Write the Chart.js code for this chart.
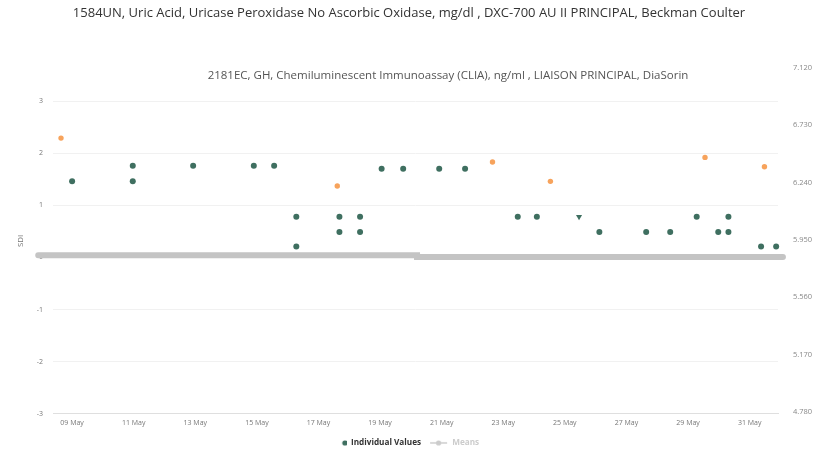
<!DOCTYPE html>
<html>
<head>
<meta charset="utf-8">
<script src="https://cdn.jsdelivr.net/npm/chart.js@4.4.0/dist/chart.umd.min.js"></script>
<style>
  body { margin: 0; background: #fff; }
  #wrap { position: relative; width: 814px; height: 452px; }
  .ttl { position: absolute; white-space: nowrap; text-align: center; font-family: "Open Sans", sans-serif; }
  #title { top: 3px; left: 0; width: 818px; font-size: 13px; color: #333; }
  #subtitle { top: 67px; left: 48px; width: 800px; font-size: 11.5px; color: #555; }
</style>
</head>
<body>
<div id="wrap">
  <canvas id="myChart" width="814" height="452"></canvas>
  <div id="title" class="ttl">1584UN, Uric Acid, Uricase Peroxidase No Ascorbic Oxidase, mg/dl , DXC-700 AU II PRINCIPAL, Beckman Coulter</div>
  <div id="subtitle" class="ttl">2181EC, GH, Chemiluminescent Immunoassay (CLIA), ng/ml , LIAISON PRINCIPAL, DiaSorin</div>
</div>
<script>
    // day of May / SDI value for each result
    var indivDays = [9.0, 10.97, 10.97, 12.93, 14.9, 15.56, 16.28, 16.28, 17.68, 17.68, 18.35, 18.35,
                     19.05, 19.75, 20.92, 21.76, 23.47, 24.09, 25.46, 26.12, 27.64, 28.42, 29.28,
                     29.98, 30.31, 30.31, 31.37, 31.86];
    var indivValues = [1.46, 1.76, 1.46, 1.76, 1.76, 1.76, 0.78, 0.21, 0.78, 0.49, 0.78, 0.49,
                       1.70, 1.70, 1.70, 1.70, 0.78, 0.78, 0.78, 0.49, 0.49, 0.49, 0.78,
                       0.49, 0.78, 0.49, 0.21, 0.21];
    var flaggedPoint = 18; // drawn as a down triangle

    var meanDays = [8.64, 17.61, 22.65, 24.53, 29.55, 31.48];
    var meanValues = [2.29, 1.37, 1.83, 1.46, 1.92, 1.74];

    var zeroLineDays = [7.9, 20.2, 20.2, 32.08];
    var zeroLineValues = [0.04, 0.04, 0.01, 0.01];

    var xTickDays = [9, 11, 13, 15, 17, 19, 21, 23, 25, 27, 29, 31];
    var xTickLabels = ['09 May', '11 May', '13 May', '15 May', '17 May', '19 May',
                       '21 May', '23 May', '25 May', '27 May', '29 May', '31 May'];
    var sdiTicks = [-3, -2, -1, 0, 1, 2, 3];
    var rightTickValues = [4.78, 5.17, 5.56, 5.95, 6.34, 6.73, 7.12];
    var rightTickLabels = ['4.780', '5.170', '5.560', '5.950', '6.240', '6.730', '7.120'];

    var green = '#3f6f60';
    var orange = '#f7a35c';

    function pts(xs, ys) {
        return xs.map(function (x, i) { return { x: x, y: ys[i] }; });
    }

    // legend symbols, 24px wide boxes
    function icon(withLine, color) {
        var c = document.createElement('canvas');
        c.width = 24; c.height = 6;
        var g = c.getContext('2d');
        var cx = 22;
        if (withLine) {
            g.strokeStyle = color; g.lineWidth = 1.5;
            g.beginPath(); g.moveTo(6, 3); g.lineTo(23, 3); g.stroke();
            cx = 14.5;
        }
        g.fillStyle = color;
        g.beginPath(); g.arc(cx, 3, 2.6, 0, Math.PI * 2); g.fill();
        return c;
    }
    var dotIcon = icon(false, green);
    var meansIcon = icon(true, '#cccccc');

    // nudge the legend a little to the left
    var legendShift = {
        id: 'legendShift',
        afterLayout: function (chart) { chart.legend.left -= 12; }
    };

    window.onload = function () {
        var ctx = document.getElementById('myChart').getContext('2d');

        new Chart(ctx, {
            type: 'scatter',
            data: {
                datasets: [{
                    label: 'Individual Values',
                    data: pts(indivDays, indivValues),
                    backgroundColor: green,
                    borderColor: green,
                    borderWidth: 0,
                    pointRadius: function (c) { return c.dataIndex === flaggedPoint ? 3.5 : 3; },
                    pointStyle: function (c) { return c.dataIndex === flaggedPoint ? 'triangle' : 'circle'; },
                    rotation: function (c) { return c.dataIndex === flaggedPoint ? 180 : 0; },
                    clip: false,
                    order: 1
                }, {
                    label: 'Means',
                    data: pts(meanDays, meanValues),
                    backgroundColor: orange,
                    borderColor: orange,
                    borderWidth: 0,
                    pointRadius: 2.7,
                    clip: false,
                    order: 2
                }, {
                    label: 'zero',
                    type: 'line',
                    data: pts(zeroLineDays, zeroLineValues),
                    borderColor: '#c4c4c4',
                    borderWidth: 6,
                    borderCapStyle: 'round',
                    pointRadius: 0,
                    fill: false,
                    clip: false,
                    order: 3
                }]
            },
            plugins: [legendShift],
            options: {
                responsive: false,
                animation: false,
                layout: { padding: { top: 68, left: 0, right: 0, bottom: -5 } },
                plugins: {
                    tooltip: { enabled: false },
                    legend: {
                        position: 'bottom',
                        labels: {
                            usePointStyle: true,
                            pointStyleWidth: 24,
                            boxHeight: 6,
                            padding: 3,
                            font: { family: 'Open Sans', size: 8.2, weight: 'bold' },
                            generateLabels: function () {
                                return [
                                    { text: 'Individual Values', pointStyle: dotIcon, fontColor: '#333333', lineWidth: 0, datasetIndex: 0 },
                                    { text: 'Means', pointStyle: meansIcon, fontColor: '#cccccc', lineWidth: 0, datasetIndex: 1 }
                                ];
                            }
                        }
                    }
                },
                scales: {
                    x: {
                        type: 'linear',
                        min: 8.38,
                        max: 31.92,
                        afterBuildTicks: function (s) { s.ticks = xTickDays.map(function (v) { return { value: v }; }); },
                        afterFit: function (s) { s.height = 22; },
                        ticks: {
                            autoSkip: false,
                            maxRotation: 0,
                            padding: 5,
                            color: '#777',
                            font: { family: 'Open Sans', size: 7 },
                            callback: function (v, i) { return xTickLabels[i]; }
                        },
                        grid: { drawOnChartArea: false, drawTicks: false },
                        border: { color: '#dfdfdf' }
                    },
                    y: {
                        position: 'left',
                        min: -3,
                        max: 3.635,
                        afterBuildTicks: function (s) { s.ticks = sdiTicks.map(function (v) { return { value: v }; }); },
                        afterFit: function (s) { s.width = 53; },
                        ticks: {
                            padding: 10,
                            color: '#777',
                            font: { family: 'Open Sans', size: 7 },
                            callback: function (v) { return String(v); }
                        },
                        grid: { color: '#f1f1f1', drawTicks: false },
                        border: { display: false },
                        title: {
                            display: true,
                            text: 'SDI',
                            color: '#777',
                            font: { family: 'Open Sans', size: 8 },
                            padding: { top: 16, bottom: 0 }
                        }
                    },
                    y2: {
                        position: 'right',
                        min: 4.7664,
                        max: 7.12,
                        afterBuildTicks: function (s) { s.ticks = rightTickValues.map(function (v) { return { value: v }; }); },
                        afterFit: function (s) { s.width = 36; },
                        ticks: {
                            padding: 15,
                            color: '#888',
                            font: { family: 'Open Sans', size: 7.5 },
                            callback: function (v, i) { return rightTickLabels[i]; }
                        },
                        grid: { display: false, drawTicks: false },
                        border: { display: false }
                    }
                }
            }
        });
    };
</script>
</body>
</html>
